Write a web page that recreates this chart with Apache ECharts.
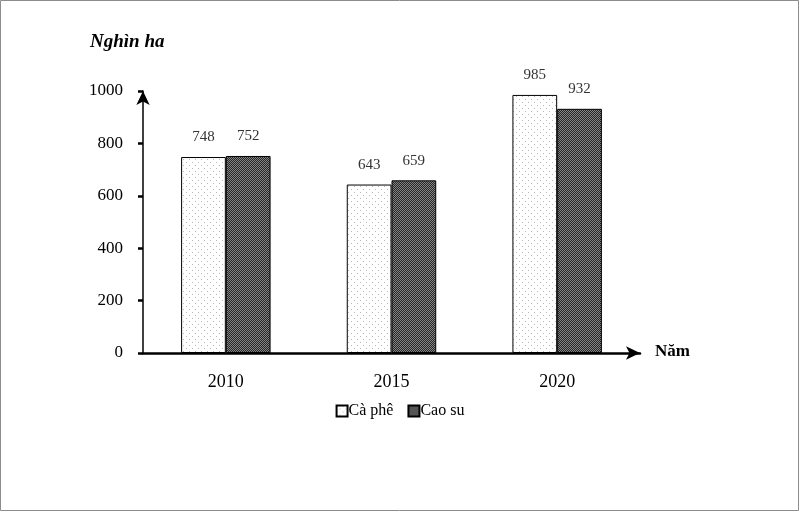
<!DOCTYPE html>
<html>
<head>
<meta charset="utf-8">
<script src="https://cdn.jsdelivr.net/npm/echarts@6/dist/echarts.min.js"></script>
<style>
  html, body { margin: 0; padding: 0; background: #fff; }
  #chart { width: 800px; height: 512px; }
</style>
</head>
<body>
<div id="chart"></div>
<script>
// dữ liệu diện tích (nghìn ha)
const years = ['2010', '2015', '2020'];
const caPhe = [748, 643, 985];
const caoSu = [752, 659, 932];
const yTicks = [0, 200, 400, 600, 800, 1000];

// tạo hoa văn nền cho cột
function makePattern(bg, dot, step, checker) {
  const c = document.createElement('canvas');
  c.width = step; c.height = step;
  const ctx = c.getContext('2d');
  ctx.fillStyle = bg;
  ctx.fillRect(0, 0, step, step);
  ctx.fillStyle = dot;
  if (checker) {
    ctx.fillRect(0, 0, 1, 1);
    ctx.fillRect(1, 1, 1, 1);
  } else {
    ctx.fillRect(0, 0, 1, 1);
    ctx.fillRect(step / 2, step / 2, 1, 1);
  }
  return { image: c, repeat: 'repeat' };
}

const dotFill = makePattern('#ffffff', '#b8b8b8', 6, false);
const darkFill = makePattern('#262626', '#858585', 2, true);

const chart = echarts.init(document.getElementById('chart'));
const serif = '"Liberation Serif", "DejaVu Serif", serif';

chart.setOption({
  backgroundColor: '#fff',
  animation: false,
  textStyle: { fontFamily: serif },
  graphic: [
    {
      type: 'rect',
      shape: { x: 0.5, y: 0.5, width: 798, height: 510 },
      style: { fill: 'none', stroke: '#8c8c8c', lineWidth: 1 }
    },
    {
      type: 'text', left: 90, top: 33,
      style: { text: 'Nghìn ha', font: 'italic bold 19px ' + serif, fill: '#000' }
    },
    {
      type: 'text', left: 655, top: 343,
      style: { text: 'Năm', font: 'bold 17px ' + serif, fill: '#000' }
    }
  ],
  grid: { left: 143, right: 160, top: 91, bottom: 159 },
  legend: {
    bottom: 88,
    left: 'center',
    icon: 'rect',
    itemWidth: 11,
    itemHeight: 11,
    itemGap: 14,
    textStyle: { fontFamily: serif, fontSize: 16, color: '#000', padding: [0, 0, 0, -4] },
    data: ['Cà phê', 'Cao su']
  },
  xAxis: {
    type: 'category',
    data: years,
    axisLine: { lineStyle: { color: '#000', width: 2.5 }, symbol: ['none', 'arrow'], symbolSize: [10, 14], symbolOffset: [0, 0] },
    axisTick: { show: false },
    axisLabel: { color: '#000', fontSize: 18, fontFamily: serif, margin: 20 }
  },
  yAxis: {
    type: 'value',
    min: 0,
    max: 1000,
    interval: 200,
    axisLine: { show: true, lineStyle: { color: '#000', width: 1.5 }, symbol: ['none', 'arrow'], symbolSize: [10, 14] },
    axisTick: { show: true, length: 5, lineStyle: { color: '#000', width: 2.5 } },
    axisLabel: {
      color: '#000', fontSize: 17, fontFamily: serif, margin: 20,
      formatter: v => yTicks.includes(v) ? String(v) : ''
    },
    splitLine: { show: false }
  },
  series: [
    {
      name: 'Cà phê',
      type: 'bar',
      data: caPhe,
      barGap: '0%',
      barCategoryGap: '46%',
      itemStyle: { color: dotFill, borderColor: '#000', borderWidth: 1 },
      label: { show: true, position: 'top', distance: 12, color: '#333', fontSize: 15, fontFamily: serif }
    },
    {
      name: 'Cao su',
      type: 'bar',
      data: caoSu,
      itemStyle: { color: darkFill, borderColor: '#000', borderWidth: 1 },
      label: { show: true, position: 'top', distance: 12, color: '#333', fontSize: 15, fontFamily: serif }
    }
  ]
});
</script>
</body>
</html>
